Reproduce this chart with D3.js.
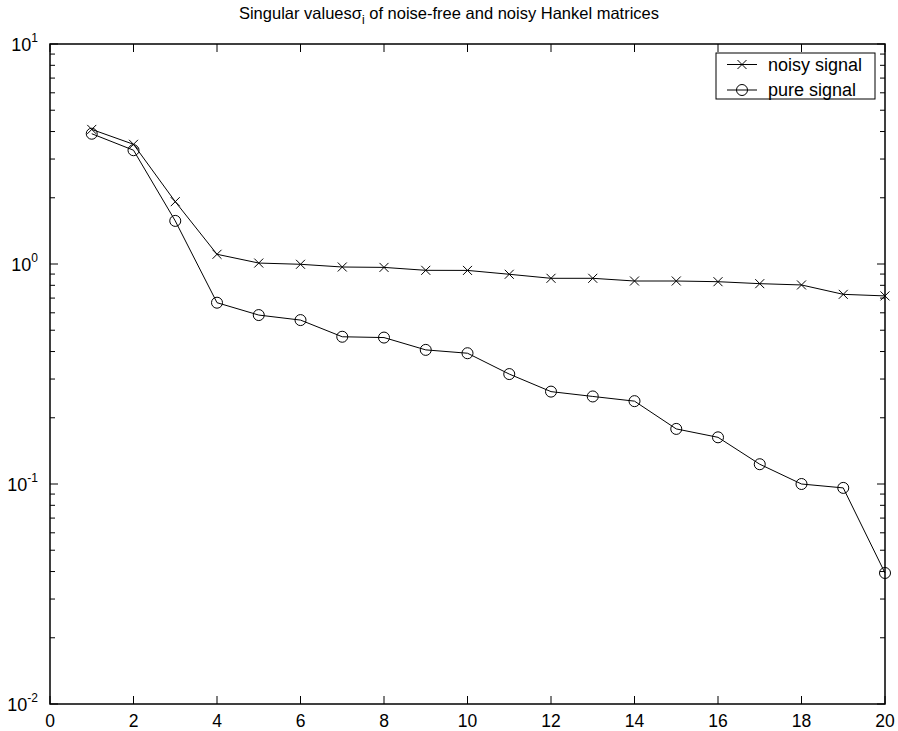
<!DOCTYPE html>
<html>
<head>
<meta charset="utf-8">
<script src="https://cdn.jsdelivr.net/npm/d3@7"></script>
<style>
  body { margin: 0; background: #fff; }
  text { font-family: "Liberation Sans", Arial, sans-serif; fill: #000; }
</style>
</head>
<body>
<div id="chart"></div>
<script>
// singular value index
var indices = [1,2,3,4,5,6,7,8,9,10,11,12,13,14,15,16,17,18,19,20];
// noisy signal singular values
var noisyValues = [4.09,3.50,1.92,1.107,1.01,0.997,0.969,0.965,0.936,0.935,
                   0.898,0.861,0.861,0.837,0.837,0.831,0.814,0.803,0.728,0.716];
// pure signal singular values
var pureValues = [3.91,3.29,1.57,0.667,0.586,0.556,0.467,0.463,0.407,0.393,
                  0.316,0.263,0.250,0.238,0.178,0.163,0.123,0.100,0.096,0.0394];
var xTicks = [0,2,4,6,8,10,12,14,16,18,20];
var yExponents = [-2,-1,0,1];

var width = 898, height = 731;
var margin = {left: 50, right: 13, top: 44, bottom: 27};
var w = width - margin.left - margin.right,
    h = height - margin.top - margin.bottom;

var svg = d3.select('#chart').append('svg')
  .attr('width', width)
  .attr('height', height);

// title with sigma_i
var title = svg.append('text')
  .attr('x', 449).attr('y', 19)
  .attr('text-anchor', 'middle')
  .style('font-size', '16.5px');
title.append('tspan').text('Singular values');
title.append('tspan').text('\u03c3');
title.append('tspan').attr('dy', 5).style('font-size', '12px').text('i');
title.append('tspan').attr('dy', -5).text(' of noise-free and noisy Hankel matrices');

var g = svg.append('g')
  .attr('transform', 'translate(' + margin.left + ',' + margin.top + ')');

var x = d3.scaleLinear().domain([0, 20]).range([0, w]);
var y = d3.scaleLog().domain([0.01, 10]).range([h, 0]);

// minor + major y ticks
var yTickVals = [];
yExponents.forEach(function(e){
  if (e < 1) for (var k = 1; k <= 9; k++) yTickVals.push(k * Math.pow(10, e));
  else yTickVals.push(Math.pow(10, e));
});
function tickLen(v){
  var l = Math.log10(v);
  return Math.abs(l - Math.round(l)) < 1e-9 ? 8 : 5;
}

// frame
g.append('rect')
  .attr('width', w).attr('height', h)
  .attr('fill', 'none').attr('stroke', '#000').attr('stroke-width', 1.5);

// x ticks bottom & top (inside)
g.selectAll('.xt').data(xTicks).enter().append('line')
  .attr('x1', function(d){ return x(d); }).attr('x2', function(d){ return x(d); })
  .attr('y1', h).attr('y2', h - 8)
  .attr('stroke', '#000');
g.selectAll('.xtt').data(xTicks).enter().append('line')
  .attr('x1', function(d){ return x(d); }).attr('x2', function(d){ return x(d); })
  .attr('y1', 0).attr('y2', 8)
  .attr('stroke', '#000');
g.selectAll('.xl').data(xTicks).enter().append('text')
  .attr('x', function(d){ return x(d); })
  .attr('y', h + 23)
  .attr('text-anchor', 'middle')
  .style('font-size', '17.5px')
  .text(function(d){ return d; });

// y ticks left & right
g.selectAll('.yt').data(yTickVals).enter().append('line')
  .attr('x1', 0).attr('x2', function(d){ return tickLen(d); })
  .attr('y1', function(d){ return y(d); }).attr('y2', function(d){ return y(d); })
  .attr('stroke', '#000');
g.selectAll('.ytr').data(yTickVals).enter().append('line')
  .attr('x1', w).attr('x2', function(d){ return w - tickLen(d); })
  .attr('y1', function(d){ return y(d); }).attr('y2', function(d){ return y(d); })
  .attr('stroke', '#000');

var yl = g.selectAll('.yl').data(yExponents).enter().append('text')
  .attr('x', -12)
  .attr('y', function(d){ return y(Math.pow(10, d)) + 7; })
  .attr('text-anchor', 'end')
  .style('font-size', '18px');
yl.append('tspan').text('10');
yl.append('tspan').attr('dy', -9).style('font-size', '12px').text(function(d){ return d; });

// lines
var line = d3.line()
  .x(function(d){ return x(d[0]); })
  .y(function(d){ return y(d[1]); });

var noisy = indices.map(function(d, i){ return [d, noisyValues[i]]; });
var pure = indices.map(function(d, i){ return [d, pureValues[i]]; });

g.append('path').datum(noisy).attr('d', line)
  .attr('fill', 'none').attr('stroke', '#000').attr('stroke-width', 1);
g.append('path').datum(pure).attr('d', line)
  .attr('fill', 'none').attr('stroke', '#000').attr('stroke-width', 1);

function crossPath(cx, cy, s){
  return 'M' + (cx - s) + ',' + (cy - s) + 'L' + (cx + s) + ',' + (cy + s) +
         'M' + (cx - s) + ',' + (cy + s) + 'L' + (cx + s) + ',' + (cy - s);
}

g.selectAll('.cross').data(noisy).enter().append('path')
  .attr('d', function(d){ return crossPath(x(d[0]), y(d[1]), 4.5); })
  .attr('stroke', '#000').attr('stroke-width', 1);

g.selectAll('.circ').data(pure).enter().append('circle')
  .attr('cx', function(d){ return x(d[0]); })
  .attr('cy', function(d){ return y(d[1]); })
  .attr('r', 5.5)
  .attr('fill', 'none').attr('stroke', '#000').attr('stroke-width', 1);

// legend
var lg = svg.append('g').attr('transform', 'translate(716,53)');
lg.append('rect').attr('width', 159).attr('height', 46)
  .attr('fill', '#fff').attr('stroke', '#000').attr('stroke-width', 1);
lg.append('line').attr('x1', 11).attr('x2', 41).attr('y1', 11.5).attr('y2', 11.5).attr('stroke', '#000');
lg.append('path').attr('d', crossPath(26, 11.5, 4.5)).attr('stroke', '#000');
lg.append('text').attr('x', 52).attr('y', 18).style('font-size', '18px').text('noisy signal');
lg.append('line').attr('x1', 11).attr('x2', 41).attr('y1', 37).attr('y2', 37).attr('stroke', '#000');
lg.append('circle').attr('cx', 26).attr('cy', 37).attr('r', 5.5)
  .attr('fill', 'none').attr('stroke', '#000');
lg.append('text').attr('x', 52).attr('y', 43).style('font-size', '18px').text('pure signal');
</script>
</body>
</html>
